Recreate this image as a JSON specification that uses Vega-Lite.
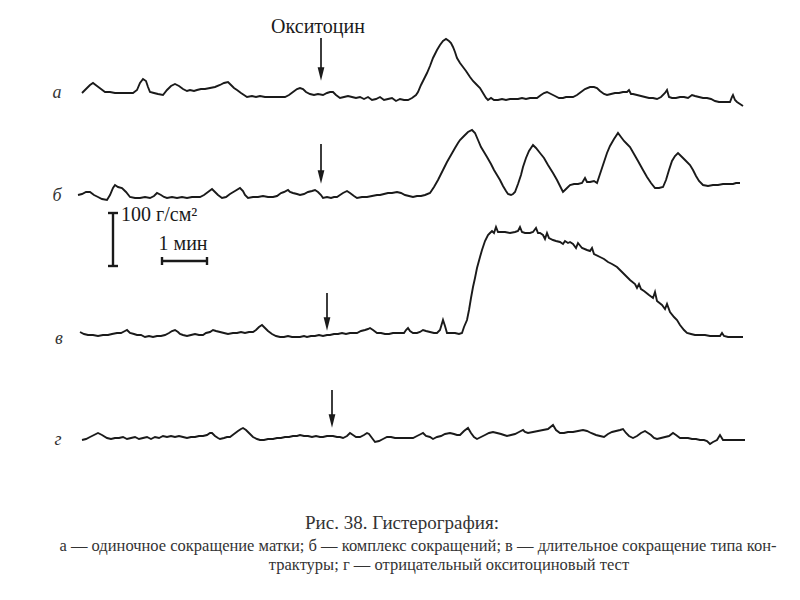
{
  "$schema": "https://vega.github.io/schema/vega-lite/v6.json",
  "width": 800,
  "height": 600,
  "autosize": {"type": "fit", "contains": "padding"},
  "padding": 0,
  "background": "white",
  "config": {"view": {"stroke": null}},
  "datasets": {
    "traces": [
      {"s":"а","x":82,"y":93},{"s":"а","x":86,"y":89},{"s":"а","x":90,"y":85},{"s":"а","x":93,"y":83},{"s":"а","x":97,"y":86},{"s":"а","x":101,"y":89},{"s":"а","x":105,"y":92},{"s":"а","x":110,"y":92},{"s":"а","x":115,"y":93},{"s":"а","x":120,"y":93},{"s":"а","x":126,"y":93},{"s":"а","x":133,"y":93},{"s":"а","x":137,"y":90},{"s":"а","x":140,"y":83},{"s":"а","x":143,"y":79},{"s":"а","x":146,"y":81},{"s":"а","x":148,"y":87},{"s":"а","x":150,"y":92},{"s":"а","x":154,"y":93},{"s":"а","x":158,"y":94},{"s":"а","x":163,"y":95},{"s":"а","x":167,"y":90},{"s":"а","x":171,"y":86},{"s":"а","x":175,"y":84},{"s":"а","x":179,"y":86},{"s":"а","x":183,"y":89},{"s":"а","x":187,"y":91},{"s":"а","x":190,"y":90},{"s":"а","x":194,"y":91},{"s":"а","x":197,"y":90},{"s":"а","x":201,"y":89},{"s":"а","x":205,"y":89},{"s":"а","x":210,"y":88},{"s":"а","x":215,"y":87},{"s":"а","x":220,"y":85},{"s":"а","x":224,"y":83},{"s":"а","x":228,"y":82},{"s":"а","x":231,"y":85},{"s":"а","x":234,"y":88},{"s":"а","x":237,"y":90},{"s":"а","x":241,"y":93},{"s":"а","x":244,"y":95},{"s":"а","x":247,"y":97},{"s":"а","x":252,"y":96},{"s":"а","x":256,"y":97},{"s":"а","x":260,"y":96},{"s":"а","x":265,"y":97},{"s":"а","x":270,"y":97},{"s":"а","x":275,"y":97},{"s":"а","x":280,"y":97},{"s":"а","x":285,"y":97},{"s":"а","x":289,"y":95},{"s":"а","x":293,"y":92},{"s":"а","x":297,"y":89},{"s":"а","x":300,"y":88},{"s":"а","x":303,"y":89},{"s":"а","x":306,"y":92},{"s":"а","x":310,"y":94},{"s":"а","x":314,"y":95},{"s":"а","x":318,"y":94},{"s":"а","x":323,"y":95},{"s":"а","x":327,"y":93},{"s":"а","x":330,"y":92},{"s":"а","x":333,"y":92},{"s":"а","x":336,"y":95},{"s":"а","x":340,"y":98},{"s":"а","x":344,"y":97},{"s":"а","x":348,"y":96},{"s":"а","x":352,"y":97},{"s":"а","x":356,"y":98},{"s":"а","x":360,"y":97},{"s":"а","x":364,"y":99},{"s":"а","x":368,"y":97},{"s":"а","x":372,"y":100},{"s":"а","x":376,"y":99},{"s":"а","x":380,"y":97},{"s":"а","x":384,"y":100},{"s":"а","x":388,"y":99},{"s":"а","x":392,"y":98},{"s":"а","x":396,"y":101},{"s":"а","x":400,"y":99},{"s":"а","x":404,"y":100},{"s":"а","x":408,"y":100},{"s":"а","x":412,"y":98},{"s":"а","x":416,"y":95},{"s":"а","x":418,"y":92},{"s":"а","x":421,"y":85},{"s":"а","x":424,"y":79},{"s":"а","x":427,"y":73},{"s":"а","x":430,"y":66},{"s":"а","x":433,"y":58},{"s":"а","x":437,"y":50},{"s":"а","x":440,"y":45},{"s":"а","x":443,"y":41},{"s":"а","x":446,"y":39},{"s":"а","x":449,"y":41},{"s":"а","x":451,"y":43},{"s":"а","x":453,"y":47},{"s":"а","x":455,"y":52},{"s":"а","x":457,"y":58},{"s":"а","x":460,"y":63},{"s":"а","x":463,"y":67},{"s":"а","x":466,"y":71},{"s":"а","x":470,"y":77},{"s":"а","x":473,"y":81},{"s":"а","x":476,"y":84},{"s":"а","x":480,"y":88},{"s":"а","x":483,"y":93},{"s":"а","x":486,"y":98},{"s":"а","x":488,"y":100},{"s":"а","x":491,"y":98},{"s":"а","x":494,"y":100},{"s":"а","x":498,"y":100},{"s":"а","x":502,"y":99},{"s":"а","x":506,"y":100},{"s":"а","x":510,"y":99},{"s":"а","x":514,"y":99},{"s":"а","x":518,"y":99},{"s":"а","x":522,"y":98},{"s":"а","x":526,"y":99},{"s":"а","x":530,"y":98},{"s":"а","x":534,"y":98},{"s":"а","x":537,"y":98},{"s":"а","x":541,"y":95},{"s":"а","x":544,"y":93},{"s":"а","x":547,"y":92},{"s":"а","x":551,"y":94},{"s":"а","x":555,"y":96},{"s":"а","x":559,"y":98},{"s":"а","x":563,"y":98},{"s":"а","x":566,"y":97},{"s":"а","x":569,"y":97},{"s":"а","x":573,"y":97},{"s":"а","x":577,"y":95},{"s":"а","x":581,"y":92},{"s":"а","x":585,"y":89},{"s":"а","x":590,"y":87},{"s":"а","x":594,"y":87},{"s":"а","x":597,"y":88},{"s":"а","x":600,"y":91},{"s":"а","x":604,"y":94},{"s":"а","x":607,"y":95},{"s":"а","x":611,"y":94},{"s":"а","x":615,"y":93},{"s":"а","x":619,"y":93},{"s":"а","x":623,"y":92},{"s":"а","x":627,"y":92},{"s":"а","x":629,"y":90},{"s":"а","x":631,"y":94},{"s":"а","x":633,"y":94},{"s":"а","x":637,"y":95},{"s":"а","x":641,"y":96},{"s":"а","x":645,"y":97},{"s":"а","x":649,"y":98},{"s":"а","x":653,"y":98},{"s":"а","x":657,"y":99},{"s":"а","x":661,"y":97},{"s":"а","x":665,"y":93},{"s":"а","x":667,"y":90},{"s":"а","x":669,"y":97},{"s":"а","x":672,"y":98},{"s":"а","x":676,"y":98},{"s":"а","x":680,"y":97},{"s":"а","x":684,"y":97},{"s":"а","x":688,"y":98},{"s":"а","x":692,"y":95},{"s":"а","x":695,"y":96},{"s":"а","x":699,"y":97},{"s":"а","x":703,"y":98},{"s":"а","x":707,"y":98},{"s":"а","x":711,"y":99},{"s":"а","x":715,"y":101},{"s":"а","x":719,"y":102},{"s":"а","x":723,"y":102},{"s":"а","x":727,"y":102},{"s":"а","x":730,"y":102},{"s":"а","x":732,"y":97},{"s":"а","x":733,"y":95},{"s":"а","x":735,"y":100},{"s":"а","x":737,"y":102},{"s":"а","x":740,"y":104},{"s":"а","x":743,"y":106},
      {"s":"б","x":78,"y":195},{"s":"б","x":82,"y":194},{"s":"б","x":86,"y":192},{"s":"б","x":90,"y":192},{"s":"б","x":94,"y":195},{"s":"б","x":98,"y":197},{"s":"б","x":102,"y":199},{"s":"б","x":107,"y":200},{"s":"б","x":110,"y":195},{"s":"б","x":113,"y":188},{"s":"б","x":115,"y":185},{"s":"б","x":118,"y":187},{"s":"б","x":122,"y":188},{"s":"б","x":126,"y":192},{"s":"б","x":130,"y":197},{"s":"б","x":135,"y":198},{"s":"б","x":140,"y":198},{"s":"б","x":145,"y":197},{"s":"б","x":150,"y":198},{"s":"б","x":154,"y":196},{"s":"б","x":157,"y":193},{"s":"б","x":161,"y":195},{"s":"б","x":164,"y":197},{"s":"б","x":167,"y":198},{"s":"б","x":172,"y":197},{"s":"б","x":177,"y":198},{"s":"б","x":182,"y":197},{"s":"б","x":187,"y":198},{"s":"б","x":192,"y":197},{"s":"б","x":196,"y":197},{"s":"б","x":200,"y":197},{"s":"б","x":204,"y":195},{"s":"б","x":208,"y":192},{"s":"б","x":212,"y":189},{"s":"б","x":215,"y":192},{"s":"б","x":218,"y":195},{"s":"б","x":222,"y":198},{"s":"б","x":226,"y":197},{"s":"б","x":230,"y":194},{"s":"б","x":235,"y":191},{"s":"б","x":240,"y":188},{"s":"б","x":243,"y":191},{"s":"б","x":245,"y":195},{"s":"б","x":248,"y":198},{"s":"б","x":253,"y":197},{"s":"б","x":258,"y":197},{"s":"б","x":263,"y":196},{"s":"б","x":268,"y":197},{"s":"б","x":273,"y":197},{"s":"б","x":277,"y":196},{"s":"б","x":281,"y":193},{"s":"б","x":284,"y":192},{"s":"б","x":288,"y":190},{"s":"б","x":290,"y":192},{"s":"б","x":293,"y":193},{"s":"б","x":297,"y":194},{"s":"б","x":300,"y":195},{"s":"б","x":304,"y":194},{"s":"б","x":308,"y":192},{"s":"б","x":312,"y":191},{"s":"б","x":315,"y":190},{"s":"б","x":318,"y":192},{"s":"б","x":321,"y":195},{"s":"б","x":323,"y":198},{"s":"б","x":327,"y":197},{"s":"б","x":331,"y":198},{"s":"б","x":334,"y":197},{"s":"б","x":337,"y":197},{"s":"б","x":340,"y":195},{"s":"б","x":343,"y":193},{"s":"б","x":347,"y":191},{"s":"б","x":350,"y":193},{"s":"б","x":354,"y":196},{"s":"б","x":357,"y":198},{"s":"б","x":362,"y":197},{"s":"б","x":367,"y":197},{"s":"б","x":372,"y":196},{"s":"б","x":377,"y":195},{"s":"б","x":380,"y":195},{"s":"б","x":384,"y":194},{"s":"б","x":388,"y":193},{"s":"б","x":392,"y":193},{"s":"б","x":397,"y":192},{"s":"б","x":401,"y":193},{"s":"б","x":405,"y":195},{"s":"б","x":409,"y":196},{"s":"б","x":413,"y":197},{"s":"б","x":417,"y":196},{"s":"б","x":421,"y":196},{"s":"б","x":425,"y":195},{"s":"б","x":430,"y":193},{"s":"б","x":434,"y":187},{"s":"б","x":438,"y":180},{"s":"б","x":443,"y":170},{"s":"б","x":447,"y":162},{"s":"б","x":451,"y":155},{"s":"б","x":455,"y":148},{"s":"б","x":458,"y":143},{"s":"б","x":460,"y":140},{"s":"б","x":464,"y":136},{"s":"б","x":468,"y":132},{"s":"б","x":472,"y":130},{"s":"б","x":475,"y":133},{"s":"б","x":478,"y":140},{"s":"б","x":481,"y":147},{"s":"б","x":484,"y":152},{"s":"б","x":487,"y":157},{"s":"б","x":491,"y":164},{"s":"б","x":494,"y":170},{"s":"б","x":497,"y":175},{"s":"б","x":500,"y":180},{"s":"б","x":503,"y":186},{"s":"б","x":506,"y":191},{"s":"б","x":508,"y":194},{"s":"б","x":511,"y":195},{"s":"б","x":513,"y":194},{"s":"б","x":515,"y":192},{"s":"б","x":518,"y":184},{"s":"б","x":521,"y":175},{"s":"б","x":523,"y":167},{"s":"б","x":526,"y":158},{"s":"б","x":529,"y":151},{"s":"б","x":533,"y":145},{"s":"б","x":536,"y":148},{"s":"б","x":540,"y":153},{"s":"б","x":544,"y":158},{"s":"б","x":548,"y":165},{"s":"б","x":553,"y":173},{"s":"б","x":557,"y":180},{"s":"б","x":560,"y":186},{"s":"б","x":563,"y":192},{"s":"б","x":566,"y":189},{"s":"б","x":570,"y":185},{"s":"б","x":574,"y":184},{"s":"б","x":578,"y":184},{"s":"б","x":582,"y":183},{"s":"б","x":585,"y":178},{"s":"б","x":587,"y":182},{"s":"б","x":590,"y":182},{"s":"б","x":594,"y":181},{"s":"б","x":597,"y":183},{"s":"б","x":600,"y":174},{"s":"б","x":603,"y":165},{"s":"б","x":607,"y":153},{"s":"б","x":610,"y":146},{"s":"б","x":614,"y":139},{"s":"б","x":618,"y":133},{"s":"б","x":621,"y":137},{"s":"б","x":624,"y":141},{"s":"б","x":627,"y":144},{"s":"б","x":630,"y":147},{"s":"б","x":634,"y":154},{"s":"б","x":638,"y":161},{"s":"б","x":643,"y":170},{"s":"б","x":647,"y":177},{"s":"б","x":651,"y":183},{"s":"б","x":655,"y":188},{"s":"б","x":659,"y":188},{"s":"б","x":663,"y":187},{"s":"б","x":666,"y":180},{"s":"б","x":669,"y":170},{"s":"б","x":672,"y":161},{"s":"б","x":675,"y":156},{"s":"б","x":678,"y":153},{"s":"б","x":682,"y":157},{"s":"б","x":686,"y":161},{"s":"б","x":690,"y":165},{"s":"б","x":693,"y":170},{"s":"б","x":696,"y":176},{"s":"б","x":699,"y":181},{"s":"б","x":703,"y":185},{"s":"б","x":708,"y":186},{"s":"б","x":713,"y":185},{"s":"б","x":718,"y":185},{"s":"б","x":723,"y":184},{"s":"б","x":728,"y":184},{"s":"б","x":733,"y":184},{"s":"б","x":736,"y":183},{"s":"б","x":740,"y":183},
      {"s":"в","x":80,"y":332},{"s":"в","x":84,"y":334},{"s":"в","x":88,"y":335},{"s":"в","x":93,"y":335},{"s":"в","x":98,"y":336},{"s":"в","x":103,"y":335},{"s":"в","x":108,"y":335},{"s":"в","x":112,"y":334},{"s":"в","x":117,"y":333},{"s":"в","x":121,"y":333},{"s":"в","x":125,"y":331},{"s":"в","x":127,"y":330},{"s":"в","x":130,"y":333},{"s":"в","x":134,"y":334},{"s":"в","x":137,"y":335},{"s":"в","x":141,"y":335},{"s":"в","x":145,"y":337},{"s":"в","x":149,"y":336},{"s":"в","x":153,"y":337},{"s":"в","x":157,"y":336},{"s":"в","x":161,"y":336},{"s":"в","x":165,"y":335},{"s":"в","x":169,"y":333},{"s":"в","x":172,"y":331},{"s":"в","x":175,"y":330},{"s":"в","x":178,"y":332},{"s":"в","x":180,"y":334},{"s":"в","x":183,"y":335},{"s":"в","x":187,"y":336},{"s":"в","x":191,"y":335},{"s":"в","x":195,"y":334},{"s":"в","x":199,"y":335},{"s":"в","x":203,"y":335},{"s":"в","x":206,"y":333},{"s":"в","x":210,"y":332},{"s":"в","x":213,"y":330},{"s":"в","x":216,"y":331},{"s":"в","x":220,"y":332},{"s":"в","x":224,"y":333},{"s":"в","x":228,"y":334},{"s":"в","x":233,"y":333},{"s":"в","x":237,"y":333},{"s":"в","x":241,"y":332},{"s":"в","x":245,"y":333},{"s":"в","x":249,"y":332},{"s":"в","x":253,"y":332},{"s":"в","x":256,"y":330},{"s":"в","x":259,"y":327},{"s":"в","x":262,"y":325},{"s":"в","x":265,"y":328},{"s":"в","x":268,"y":331},{"s":"в","x":272,"y":334},{"s":"в","x":276,"y":336},{"s":"в","x":280,"y":337},{"s":"в","x":284,"y":337},{"s":"в","x":288,"y":336},{"s":"в","x":292,"y":337},{"s":"в","x":296,"y":337},{"s":"в","x":300,"y":337},{"s":"в","x":304,"y":336},{"s":"в","x":307,"y":337},{"s":"в","x":311,"y":336},{"s":"в","x":315,"y":336},{"s":"в","x":319,"y":335},{"s":"в","x":323,"y":336},{"s":"в","x":327,"y":335},{"s":"в","x":330,"y":335},{"s":"в","x":334,"y":334},{"s":"в","x":338,"y":334},{"s":"в","x":342,"y":333},{"s":"в","x":346,"y":334},{"s":"в","x":350,"y":333},{"s":"в","x":353,"y":333},{"s":"в","x":357,"y":333},{"s":"в","x":361,"y":331},{"s":"в","x":365,"y":330},{"s":"в","x":368,"y":329},{"s":"в","x":370,"y":328},{"s":"в","x":373,"y":330},{"s":"в","x":377,"y":333},{"s":"в","x":381,"y":333},{"s":"в","x":385,"y":334},{"s":"в","x":389,"y":334},{"s":"в","x":393,"y":333},{"s":"в","x":397,"y":333},{"s":"в","x":400,"y":333},{"s":"в","x":404,"y":333},{"s":"в","x":406,"y":330},{"s":"в","x":408,"y":328},{"s":"в","x":410,"y":331},{"s":"в","x":413,"y":333},{"s":"в","x":417,"y":333},{"s":"в","x":420,"y":332},{"s":"в","x":423,"y":330},{"s":"в","x":426,"y":331},{"s":"в","x":430,"y":332},{"s":"в","x":434,"y":333},{"s":"в","x":437,"y":333},{"s":"в","x":440,"y":330},{"s":"в","x":443,"y":320},{"s":"в","x":445,"y":326},{"s":"в","x":447,"y":333},{"s":"в","x":451,"y":333},{"s":"в","x":455,"y":333},{"s":"в","x":459,"y":334},{"s":"в","x":462,"y":333},{"s":"в","x":464,"y":327},{"s":"в","x":467,"y":320},{"s":"в","x":469,"y":310},{"s":"в","x":471,"y":298},{"s":"в","x":473,"y":287},{"s":"в","x":475,"y":278},{"s":"в","x":477,"y":268},{"s":"в","x":480,"y":257},{"s":"в","x":482,"y":250},{"s":"в","x":485,"y":241},{"s":"в","x":488,"y":235},{"s":"в","x":490,"y":233},{"s":"в","x":492,"y":231},{"s":"в","x":494,"y":233},{"s":"в","x":496,"y":227},{"s":"в","x":498,"y":232},{"s":"в","x":500,"y":232},{"s":"в","x":505,"y":232},{"s":"в","x":510,"y":233},{"s":"в","x":515,"y":232},{"s":"в","x":518,"y":231},{"s":"в","x":520,"y":227},{"s":"в","x":522,"y":232},{"s":"в","x":525,"y":233},{"s":"в","x":530,"y":233},{"s":"в","x":533,"y":232},{"s":"в","x":536,"y":228},{"s":"в","x":538,"y":233},{"s":"в","x":540,"y":233},{"s":"в","x":543,"y":235},{"s":"в","x":545,"y":239},{"s":"в","x":547,"y":233},{"s":"в","x":549,"y":238},{"s":"в","x":553,"y":240},{"s":"в","x":556,"y":241},{"s":"в","x":560,"y":242},{"s":"в","x":563,"y":244},{"s":"в","x":565,"y":241},{"s":"в","x":568,"y":243},{"s":"в","x":570,"y":242},{"s":"в","x":573,"y":244},{"s":"в","x":576,"y":248},{"s":"в","x":578,"y":243},{"s":"в","x":582,"y":248},{"s":"в","x":587,"y":250},{"s":"в","x":590,"y":251},{"s":"в","x":592,"y":248},{"s":"в","x":594,"y":254},{"s":"в","x":600,"y":257},{"s":"в","x":604,"y":259},{"s":"в","x":608,"y":262},{"s":"в","x":612,"y":264},{"s":"в","x":617,"y":267},{"s":"в","x":621,"y":271},{"s":"в","x":626,"y":276},{"s":"в","x":630,"y":280},{"s":"в","x":635,"y":284},{"s":"в","x":637,"y":288},{"s":"в","x":639,"y":284},{"s":"в","x":641,"y":289},{"s":"в","x":644,"y":291},{"s":"в","x":649,"y":295},{"s":"в","x":653,"y":298},{"s":"в","x":655,"y":292},{"s":"в","x":657,"y":301},{"s":"в","x":662,"y":305},{"s":"в","x":665,"y":309},{"s":"в","x":667,"y":304},{"s":"в","x":670,"y":312},{"s":"в","x":674,"y":317},{"s":"в","x":677,"y":320},{"s":"в","x":680,"y":325},{"s":"в","x":684,"y":330},{"s":"в","x":687,"y":333},{"s":"в","x":691,"y":334},{"s":"в","x":695,"y":335},{"s":"в","x":700,"y":335},{"s":"в","x":705,"y":335},{"s":"в","x":710,"y":336},{"s":"в","x":715,"y":336},{"s":"в","x":720,"y":336},{"s":"в","x":722,"y":333},{"s":"в","x":724,"y":336},{"s":"в","x":728,"y":337},{"s":"в","x":733,"y":337},{"s":"в","x":738,"y":337},{"s":"в","x":743,"y":337},
      {"s":"г","x":82,"y":440},{"s":"г","x":86,"y":439},{"s":"г","x":90,"y":437},{"s":"г","x":94,"y":435},{"s":"г","x":98,"y":433},{"s":"г","x":102,"y":435},{"s":"г","x":107,"y":438},{"s":"г","x":111,"y":439},{"s":"г","x":115,"y":438},{"s":"г","x":119,"y":438},{"s":"г","x":123,"y":437},{"s":"г","x":127,"y":439},{"s":"г","x":131,"y":438},{"s":"г","x":135,"y":437},{"s":"г","x":139,"y":439},{"s":"г","x":143,"y":438},{"s":"г","x":147,"y":437},{"s":"г","x":151,"y":439},{"s":"г","x":155,"y":437},{"s":"г","x":159,"y":438},{"s":"г","x":163,"y":436},{"s":"г","x":167,"y":437},{"s":"г","x":171,"y":436},{"s":"г","x":175,"y":437},{"s":"г","x":179,"y":436},{"s":"г","x":183,"y":437},{"s":"г","x":187,"y":438},{"s":"г","x":191,"y":437},{"s":"г","x":195,"y":437},{"s":"г","x":199,"y":436},{"s":"г","x":203,"y":436},{"s":"г","x":207,"y":435},{"s":"г","x":210,"y":433},{"s":"г","x":212,"y":433},{"s":"г","x":215,"y":436},{"s":"г","x":218,"y":438},{"s":"г","x":220,"y":439},{"s":"г","x":224,"y":438},{"s":"г","x":227,"y":437},{"s":"г","x":230,"y":437},{"s":"г","x":234,"y":434},{"s":"г","x":238,"y":431},{"s":"г","x":241,"y":429},{"s":"г","x":243,"y":428},{"s":"г","x":246,"y":430},{"s":"г","x":249,"y":433},{"s":"г","x":253,"y":437},{"s":"г","x":257,"y":439},{"s":"г","x":260,"y":440},{"s":"г","x":264,"y":440},{"s":"г","x":268,"y":439},{"s":"г","x":273,"y":439},{"s":"г","x":277,"y":438},{"s":"г","x":281,"y":438},{"s":"г","x":285,"y":437},{"s":"г","x":289,"y":437},{"s":"г","x":293,"y":436},{"s":"г","x":297,"y":436},{"s":"г","x":300,"y":435},{"s":"г","x":304,"y":436},{"s":"г","x":308,"y":436},{"s":"г","x":312,"y":437},{"s":"г","x":316,"y":436},{"s":"г","x":320,"y":437},{"s":"г","x":323,"y":437},{"s":"г","x":327,"y":436},{"s":"г","x":330,"y":436},{"s":"г","x":333,"y":436},{"s":"г","x":337,"y":437},{"s":"г","x":340,"y":437},{"s":"г","x":343,"y":438},{"s":"г","x":347,"y":436},{"s":"г","x":350,"y":433},{"s":"г","x":353,"y":435},{"s":"г","x":356,"y":437},{"s":"г","x":360,"y":437},{"s":"г","x":364,"y":435},{"s":"г","x":367,"y":433},{"s":"г","x":369,"y":434},{"s":"г","x":372,"y":438},{"s":"г","x":375,"y":442},{"s":"г","x":379,"y":441},{"s":"г","x":383,"y":439},{"s":"г","x":387,"y":437},{"s":"г","x":391,"y":437},{"s":"г","x":395,"y":438},{"s":"г","x":400,"y":438},{"s":"г","x":404,"y":438},{"s":"г","x":408,"y":438},{"s":"г","x":413,"y":438},{"s":"г","x":417,"y":436},{"s":"г","x":421,"y":434},{"s":"г","x":423,"y":433},{"s":"г","x":426,"y":436},{"s":"г","x":430,"y":437},{"s":"г","x":433,"y":439},{"s":"г","x":437,"y":437},{"s":"г","x":441,"y":436},{"s":"г","x":445,"y":434},{"s":"г","x":450,"y":433},{"s":"г","x":454,"y":434},{"s":"г","x":457,"y":435},{"s":"г","x":460,"y":435},{"s":"г","x":464,"y":431},{"s":"г","x":468,"y":428},{"s":"г","x":471,"y":433},{"s":"г","x":474,"y":437},{"s":"г","x":477,"y":439},{"s":"г","x":481,"y":437},{"s":"г","x":485,"y":435},{"s":"г","x":489,"y":433},{"s":"г","x":493,"y":432},{"s":"г","x":497,"y":433},{"s":"г","x":501,"y":434},{"s":"г","x":504,"y":435},{"s":"г","x":507,"y":436},{"s":"г","x":511,"y":435},{"s":"г","x":515,"y":434},{"s":"г","x":519,"y":432},{"s":"г","x":523,"y":430},{"s":"г","x":525,"y":432},{"s":"г","x":528,"y":433},{"s":"г","x":533,"y":432},{"s":"г","x":538,"y":431},{"s":"г","x":543,"y":430},{"s":"г","x":548,"y":429},{"s":"г","x":553,"y":425},{"s":"г","x":556,"y":430},{"s":"г","x":560,"y":433},{"s":"г","x":564,"y":433},{"s":"г","x":568,"y":432},{"s":"г","x":573,"y":432},{"s":"г","x":578,"y":431},{"s":"г","x":583,"y":430},{"s":"г","x":587,"y":431},{"s":"г","x":591,"y":433},{"s":"г","x":596,"y":435},{"s":"г","x":600,"y":436},{"s":"г","x":604,"y":437},{"s":"г","x":608,"y":434},{"s":"г","x":612,"y":432},{"s":"г","x":616,"y":431},{"s":"г","x":620,"y":430},{"s":"г","x":623,"y":429},{"s":"г","x":626,"y":433},{"s":"г","x":629,"y":436},{"s":"г","x":633,"y":438},{"s":"г","x":637,"y":436},{"s":"г","x":641,"y":433},{"s":"г","x":645,"y":431},{"s":"г","x":648,"y":433},{"s":"г","x":651,"y":435},{"s":"г","x":654,"y":438},{"s":"г","x":657,"y":439},{"s":"г","x":661,"y":438},{"s":"г","x":665,"y":437},{"s":"г","x":669,"y":436},{"s":"г","x":673,"y":433},{"s":"г","x":676,"y":435},{"s":"г","x":680,"y":438},{"s":"г","x":684,"y":438},{"s":"г","x":688,"y":438},{"s":"г","x":692,"y":439},{"s":"г","x":696,"y":439},{"s":"г","x":700,"y":440},{"s":"г","x":704,"y":440},{"s":"г","x":707,"y":441},{"s":"г","x":710,"y":444},{"s":"г","x":713,"y":442},{"s":"г","x":717,"y":440},{"s":"г","x":720,"y":435},{"s":"г","x":723,"y":440},{"s":"г","x":727,"y":440},{"s":"г","x":731,"y":440},{"s":"г","x":736,"y":440},{"s":"г","x":740,"y":440},{"s":"г","x":745,"y":440}
    ],
    "arrows": [
      {"s":"а","x":321,"y":38,"y2":70,"tip":74},
      {"s":"б","x":321,"y":144,"y2":175,"tip":177},
      {"s":"в","x":327,"y":293,"y2":322,"tip":324},
      {"s":"г","x":332,"y":390,"y2":418,"tip":421}
    ],
    "bars": [
      {"x":113,"x2":113,"y":213,"y2":266},
      {"x":108,"x2":118,"y":213,"y2":213},
      {"x":108,"x2":118,"y":266,"y2":266},
      {"x":162,"x2":207,"y":261,"y2":261},
      {"x":162,"x2":162,"y":257,"y2":265},
      {"x":207,"x2":207,"y":257,"y2":265}
    ],
    "letters": [
      {"t":"а","x":57,"y":93},
      {"t":"б","x":57,"y":196},
      {"t":"в","x":59,"y":339},
      {"t":"г","x":58,"y":440}
    ],
    "notes": [
      {"t":"Окситоцин","x":318,"y":27},
      {"t":"1 мин","x":183,"y":244}
    ],
    "unitlabel": [
      {"t":"100 г/см²","x":121,"y":215}
    ],
    "title": [
      {"t":"Рис. 38. Гистерография:","x":402,"y":523}
    ],
    "caption": [
      {"t":"а — одиночное сокращение матки; б — комплекс сокращений; в — длительное сокращение типа кон-","x":418,"y":546},
      {"t":"трактуры; г — отрицательный окситоциновый тест","x":449,"y":565}
    ]
  },
  "layer": [
    {
      "data": {"name": "traces"},
      "mark": {"type": "line", "color": "#1a1a1a", "strokeWidth": 1.9, "interpolate": "linear"},
      "encoding": {
        "x": {"field": "x", "type": "quantitative", "scale": {"domain": [0, 800], "nice": false, "zero": false}, "axis": null},
        "y": {"field": "y", "type": "quantitative", "scale": {"domain": [0, 600], "nice": false, "zero": false, "reverse": true}, "axis": null},
        "detail": {"field": "s", "type": "nominal"}
      }
    },
    {
      "data": {"name": "arrows"},
      "mark": {"type": "rule", "color": "#1a1a1a", "strokeWidth": 1.7},
      "encoding": {
        "x": {"field": "x", "type": "quantitative", "axis": null},
        "y": {"field": "y", "type": "quantitative", "axis": null},
        "y2": {"field": "y2"}
      }
    },
    {
      "data": {"name": "arrows"},
      "mark": {"type": "point", "shape": "M-0.5,-1L0.5,-1L0,1Z", "filled": true, "color": "#1a1a1a", "size": 180, "opacity": 1},
      "encoding": {
        "x": {"field": "x", "type": "quantitative", "axis": null},
        "y": {"field": "tip", "type": "quantitative", "axis": null}
      }
    },
    {
      "data": {"name": "bars"},
      "mark": {"type": "rule", "color": "#1a1a1a", "strokeWidth": 2.4},
      "encoding": {
        "x": {"field": "x", "type": "quantitative", "axis": null},
        "x2": {"field": "x2"},
        "y": {"field": "y", "type": "quantitative", "axis": null},
        "y2": {"field": "y2"}
      }
    },
    {
      "data": {"name": "letters"},
      "mark": {"type": "text", "font": "Liberation Serif", "fontStyle": "italic", "fontSize": 18, "color": "#333333", "align": "center", "baseline": "middle"},
      "encoding": {
        "x": {"field": "x", "type": "quantitative", "axis": null},
        "y": {"field": "y", "type": "quantitative", "axis": null},
        "text": {"field": "t"}
      }
    },
    {
      "data": {"name": "notes"},
      "mark": {"type": "text", "font": "Liberation Serif", "fontSize": 20, "color": "#1a1a1a", "align": "center", "baseline": "middle"},
      "encoding": {
        "x": {"field": "x", "type": "quantitative", "axis": null},
        "y": {"field": "y", "type": "quantitative", "axis": null},
        "text": {"field": "t"}
      }
    },
    {
      "data": {"name": "unitlabel"},
      "mark": {"type": "text", "font": "Liberation Serif", "fontSize": 20, "color": "#1a1a1a", "align": "left", "baseline": "middle"},
      "encoding": {
        "x": {"field": "x", "type": "quantitative", "axis": null},
        "y": {"field": "y", "type": "quantitative", "axis": null},
        "text": {"field": "t"}
      }
    },
    {
      "data": {"name": "title"},
      "mark": {"type": "text", "font": "Liberation Serif", "fontSize": 19, "color": "#333333", "align": "center", "baseline": "middle"},
      "encoding": {
        "x": {"field": "x", "type": "quantitative", "axis": null},
        "y": {"field": "y", "type": "quantitative", "axis": null},
        "text": {"field": "t"}
      }
    },
    {
      "data": {"name": "caption"},
      "mark": {"type": "text", "font": "Liberation Serif", "fontSize": 16.5, "color": "#333333", "align": "center", "baseline": "middle"},
      "encoding": {
        "x": {"field": "x", "type": "quantitative", "axis": null},
        "y": {"field": "y", "type": "quantitative", "axis": null},
        "text": {"field": "t"}
      }
    }
  ]
}
